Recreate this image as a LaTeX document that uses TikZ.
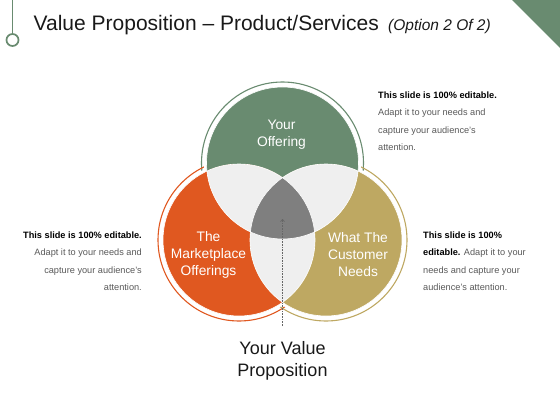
\documentclass[tikz,border=0pt]{standalone}
\usepackage{fontspec}
\setmainfont{Liberation Sans}
\usetikzlibrary{arrows.meta}

\definecolor{offergreen}{HTML}{698B70}
\definecolor{marketorange}{HTML}{E05820}
\definecolor{needolive}{HTML}{BEA862}
\definecolor{lensgray}{HTML}{EFEFEF}
\definecolor{coregray}{HTML}{7F7F7F}
\definecolor{notegray}{HTML}{595959}

\tikzset{
  ring/.style={line width=1.1pt},
  circletext/.style={text=white, align=center, inner sep=0pt,
    font=\fontsize{13.8}{17}\selectfont},
  note/.style={text=notegray, inner sep=0pt,
    font=\fontsize{9.2}{17.3}\selectfont},
}

\begin{document}
\begin{tikzpicture}[x=1pt,y=-1pt]
    \useasboundingbox (0,0) rectangle (560,420);

    % Title bar
    \node[circle, draw=offergreen, line width=1.7pt, fill=white,
      minimum size=12pt, inner sep=0pt] (pin) at (12.5,40) {};
    \coordinate (pintop) at (12.5,0);
    \draw[offergreen, line width=1.7pt] (pintop) -- (pin);
    \fill[offergreen] (512,0) -- (560,0) -- (560,48) -- cycle;
    \node[anchor=base west, inner sep=0pt, text=black!90,
      font=\fontsize{21}{25}\selectfont] (title) at (33.5,30.5)
      {Value Proposition -- Product/Services};
    \node[anchor=base west, inner sep=0pt, text=black!90,
      font=\fontsize{15.5}{18}\selectfont\itshape] (option)
      at ([xshift=9pt]title.base east) {(Option 2 Of 2)};

    % Circle centres
    \coordinate (offer) at (282.5,163);
    \coordinate (market) at (239,240);
    \coordinate (customer) at (326,240);

    % Outer rings and white gaps
    \draw[ring, offergreen] (offer) circle (81);
    \draw[ring, marketorange] (market) circle (81);
    \draw[ring, needolive] (customer) circle (81);
    \foreach \c in {offer, market, customer}
      \fill[white] (\c) circle (78.5);

    % Filled circles
    \fill[offergreen] (offer) circle (76);
    \fill[marketorange] (market) circle (76);
    \fill[needolive] (customer) circle (76);

    % Overlaps
    \begin{scope}
      \clip (offer) circle (76);
      \fill[lensgray] (market) circle (76);
      \fill[lensgray] (customer) circle (76);
    \end{scope}
    \begin{scope}
      \clip (market) circle (76);
      \fill[lensgray] (customer) circle (76);
    \end{scope}
    \begin{scope}
      \clip (offer) circle (76);
      \clip (market) circle (76);
      \fill[coregray] (customer) circle (76);
    \end{scope}
    \foreach \c in {offer, market, customer}
      \draw[white, line width=0.6pt] (\c) circle (76);

    % Circle labels
    \node[circletext] (offertext) at (281.5,134.5) {Your\\Offering};
    \node[circletext] (markettext) at (208.5,254.5) {The\\Marketplace\\Offerings};
    \node[circletext] (customertext) at (358,254.5) {What The\\Customer\\Needs};

    % Pointer to the centre
    \coordinate (arrowfoot) at (282.5,326);
    \coordinate (arrowtip) at (282.5,219);
    \draw[black!60, densely dotted, line width=0.6pt,
      -{To[length=3pt,width=4.5pt]}] (arrowfoot) -- (arrowtip);
    \node[inner sep=0pt, align=center, text=black!90,
      font=\fontsize{18}{21.7}\selectfont] (valuetext) at (282.5,361)
      {Your Value\\Proposition};

    % Side notes
    \node[note, anchor=north west, align=left] (notetop) at (378,91.6)
      {\textcolor{black}{\bfseries This slide is 100\% editable.}\\
       Adapt it to your needs and\\capture your audience's\\attention.};
    \node[note, anchor=north east, align=right] (noteleft) at (142,231.6)
      {\textcolor{black}{\bfseries This slide is 100\% editable.}\\
       Adapt it to your needs and\\capture your audience's\\attention.};
    \node[note, anchor=north west, align=left] (noteright) at (423,231.6)
      {\textcolor{black}{\bfseries This slide is 100\%}\\
       \textcolor{black}{\bfseries editable.} Adapt it to your\\
       needs and capture your\\audience's attention.};
\end{tikzpicture}
\end{document}
